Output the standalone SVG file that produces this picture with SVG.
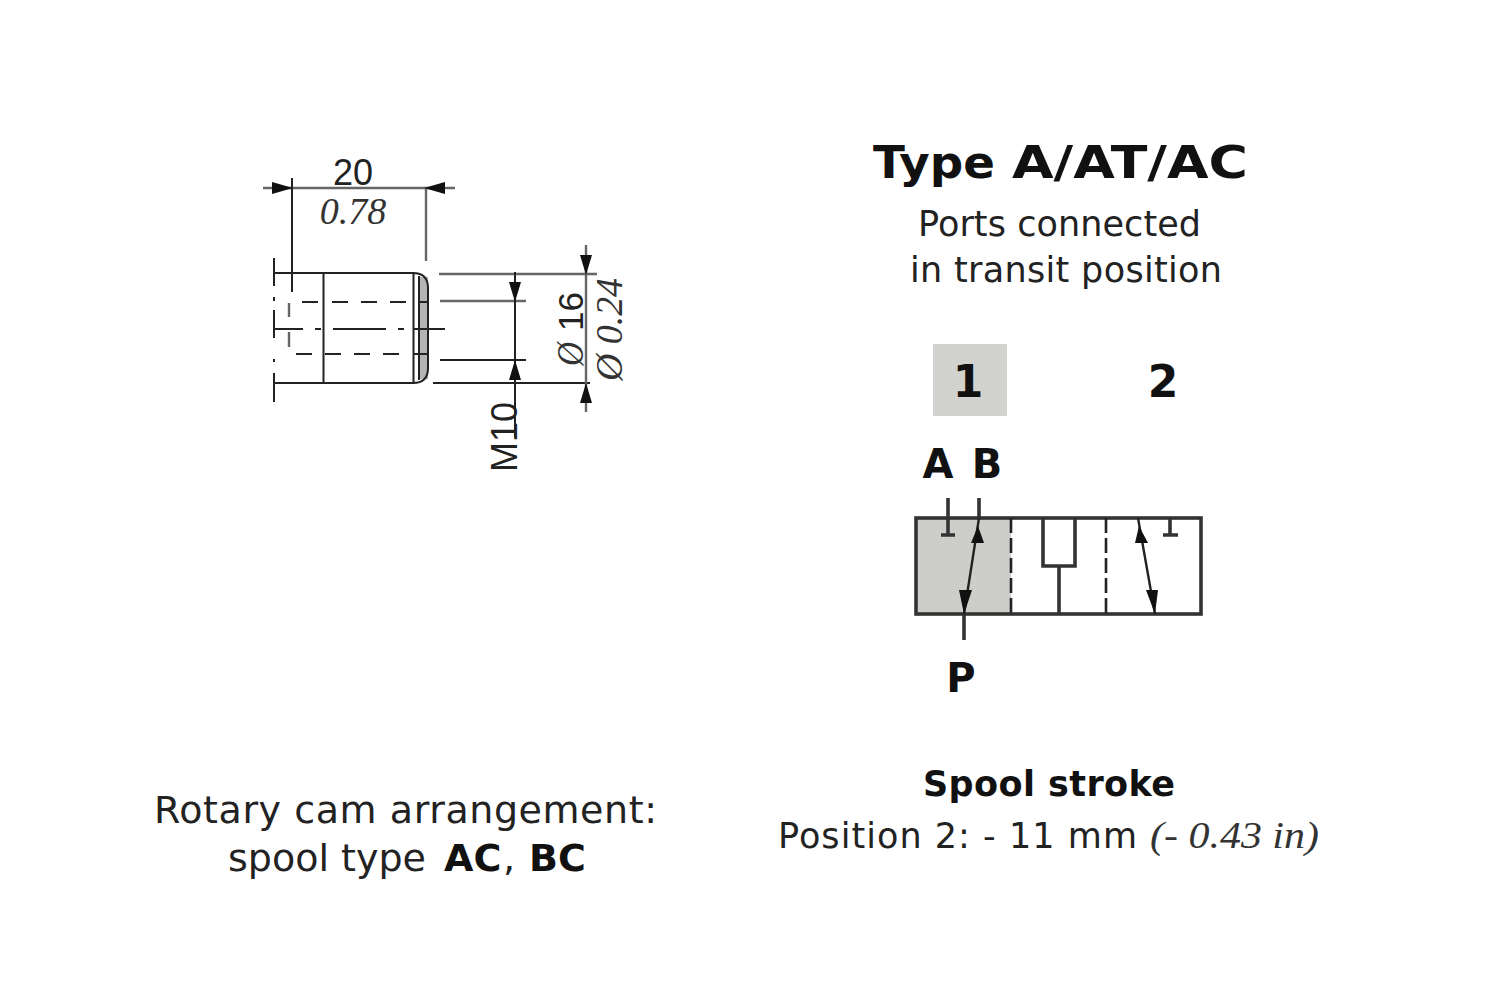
<svg xmlns="http://www.w3.org/2000/svg" width="1500" height="1000" viewBox="0 0 1500 1000">
<style>
.l{stroke:#222;stroke-width:2;fill:none}
.g{stroke:#666;stroke-width:2.4;fill:none}
.h{stroke:#333;stroke-width:3.600;fill:none}
.a{fill:#111;stroke:none}
.s{font-family:"DejaVu Sans",Verdana,sans-serif;fill:#222}
.b{font-family:"DejaVu Sans",Verdana,sans-serif;font-weight:700;fill:#111}
.i{font-family:"Liberation Serif","Times New Roman",serif;font-style:italic;fill:#333}
.a1{font-family:"Liberation Sans",Arial,sans-serif;fill:#222}
</style>
<rect width="1500" height="1000" fill="#fff"/>
<g id="cam-drawing">
<path class="g" d="M263 188H455M426 188V261"/>
<path class="l" d="M292 178V292"/>
<polygon class="a" points="272,182 293,188 272,194"/>
<polygon class="a" points="445,182 424,188 445,194"/>
<rect x="419" y="277" width="9" height="102" fill="#b4b4b4"/>
<path class="l" d="M274 273H413Q428 273 428 288V368Q428 383 413 383H274M323.500 273V383M413.500 273V383M419 276V380"/>
<path class="l" d="M274 258V286M274 297V301M274 310V338M274 359V362M274 373V402"/>
<path class="l" d="M302 302H318M332 302H348M361 302H377M390 302H406M418 302H428M296 354H312M325 354H341M354 354H370M383 354H399M413 354H428"/>
<path class="l" d="M274 329H303M315 329H321M333 329H386M398 329H404M413 329H445"/>
<path class="g" d="M289 303V317M289 332V347"/>
<path class="g" d="M439 274H597M440 301H526"/>
<path class="l" d="M440 360H526M433 383H590M515 272V437"/>
<path class="g" d="M586 245V412"/>
<polygon class="a" points="509,282 521,282 515,302"/>
<polygon class="a" points="509,380 521,380 515,360"/>
<polygon class="a" points="580,255 592,255 586,275"/>
<polygon class="a" points="580,403 592,403 586,383"/>
<text class="a1" x="353" y="185" font-size="36" text-anchor="middle">20</text>
<text class="i" x="353" y="224" font-size="38" text-anchor="middle">0.78</text>
<text class="a1" transform="translate(517 472) rotate(-90)" font-size="36" textLength="70" lengthAdjust="spacingAndGlyphs">M10</text>
<text class="i" transform="translate(583 366) rotate(-90)" font-size="38" textLength="24" lengthAdjust="spacingAndGlyphs">Ø</text>
<text class="a1" transform="translate(583 331) rotate(-90)" font-size="35">16</text>
<text class="i" transform="translate(622 381) rotate(-90)" font-size="38" textLength="103" lengthAdjust="spacingAndGlyphs">Ø 0.24</text>
</g>
<g id="valve-symbol">
<rect x="916" y="518" width="95" height="96" fill="#cdcdc9"/>
<rect x="916" y="518" width="285" height="96" class="h"/>
<path class="l" d="M1011 518V614M1106 518V614" style="stroke-dasharray:15 5;stroke-width:2.600"/>
<path class="h" d="M948 498V535M979 498V518M941 535H955M1043 518V566H1075V518M1059 566V614M1170 518V535M1163 535H1178M964 614V640"/>
<path class="l" d="M979 518L964 614M1138 518L1155 614" style="stroke-width:2.400"/>
<polygon class="a" points="978,526 984,543 971,543"/>
<polygon class="a" points="964,614 959,590 972,590"/>
<polygon class="a" points="1139,526 1148,543 1135,543"/>
<polygon class="a" points="1155,614 1146,590 1158,590"/>
</g>
<g id="labels">
<rect x="933" y="344" width="74" height="72" fill="#d2d2ce"/>
<text class="b" x="968" y="397" font-size="44" text-anchor="middle">1</text>
<text class="b" x="1163" y="397" font-size="44" text-anchor="middle">2</text>
<text class="b" x="938" y="478" font-size="40" text-anchor="middle">A</text>
<text class="b" x="987" y="478" font-size="40" text-anchor="middle">B</text>
<text class="b" x="961" y="692" font-size="40" text-anchor="middle">P</text>
<text class="b" y="178" font-size="45"><tspan x="873" textLength="122" lengthAdjust="spacingAndGlyphs">Type</tspan> <tspan x="1012" textLength="236" lengthAdjust="spacingAndGlyphs">A/AT/AC</tspan></text>
<text class="s" x="918" y="236" font-size="35" textLength="283">Ports connected</text>
<text class="s" x="910" y="282" font-size="35" textLength="312">in transit position</text>
<text class="b" x="923" y="796" font-size="35" textLength="252">Spool stroke</text>
<text class="s" x="778" y="848" font-size="35" textLength="359">Position 2: - 11 mm</text>
<text class="i" x="1150" y="848" font-size="38" textLength="169" lengthAdjust="spacingAndGlyphs">(- 0.43 in)</text>
<text class="s" x="154" y="823" font-size="38" textLength="503">Rotary cam arrangement:</text>
<text class="s" y="871" font-size="38"><tspan x="228">spool type</tspan> <tspan class="b" x="444">AC</tspan><tspan x="503">,</tspan> <tspan class="b" x="529">BC</tspan></text>
</g>
</svg>
